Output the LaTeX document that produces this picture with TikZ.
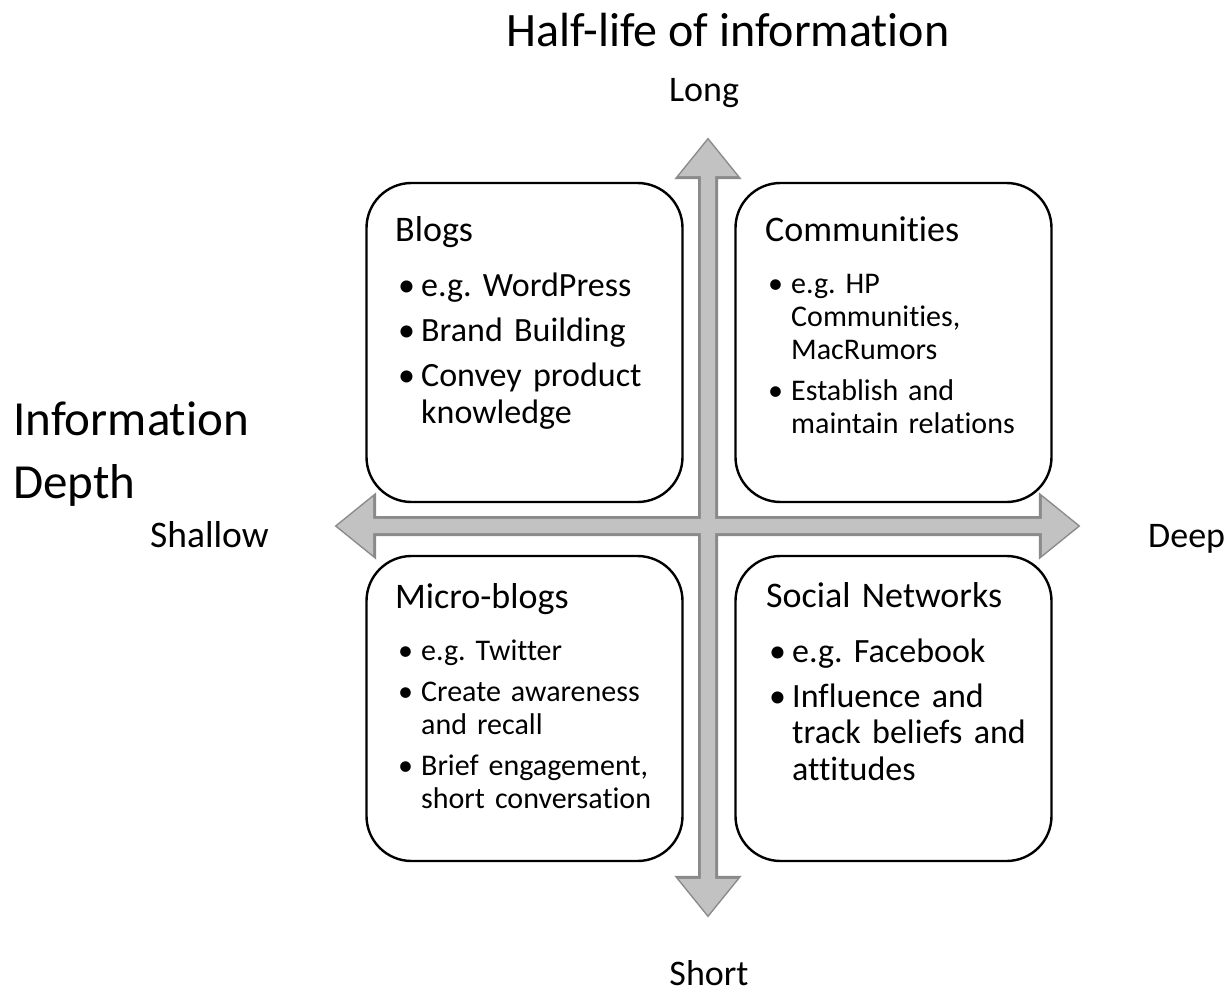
\documentclass[tikz,border=0pt]{standalone}
\usepackage{fontspec}
\setmainfont{Carlito}[Ligatures={NoCommon,NoContextual}]
\usetikzlibrary{shapes.arrows}
\usetikzlibrary{positioning}
\definecolor{axisfill}{HTML}{C2C2C2}
\definecolor{axisline}{HTML}{8A8A8A}
\newlength{\itemgap}
\newlength{\headgap}
\newcommand{\quadhead}[1]{{\fontsize{36}{40}\selectfont #1\par}\vspace{\headgap}}
\newcommand{\quaditem}[1]{\par\vspace{\itemgap}\noindent\hangindent=26pt\hangafter=1\makebox[26pt][l]{\hspace{3pt}\textbullet}#1\par}
\tikzset{quad/.style = {draw, line width=2.4pt, rounded corners=45pt, fill=white,
                        minimum width=316pt, inner sep=0}}
\tikzset{axis/.style = {double arrow, double arrow head extend=22pt, double arrow tip angle=78,
                        inner xsep=0, inner ysep=7pt, minimum width=0}}
\tikzset{quadtext/.style = {anchor=base west, inner sep=0, text width=290pt, align=left,
                            execute at begin node={\parindent=0pt\parskip=0pt\frenchspacing}}}
\tikzset{bigtext/.style = {quadtext, font=\fontsize{34}{36.5}\selectfont,
                           execute at begin node={\setlength{\itemgap}{8.5pt}\setlength{\headgap}{10pt}}}}
\tikzset{smalltext/.style = {quadtext, font=\fontsize{30}{33}\selectfont,
                             execute at begin node={\setlength{\itemgap}{8pt}\setlength{\headgap}{11pt}}}}
\tikzset{axislabel/.style = {anchor=base, inner sep=0, font=\fontsize{36}{40}\selectfont}}

\begin{document}
\begin{tikzpicture}[x=1pt, y=1pt]
  \useasboundingbox (0, 0) rectangle (1232, -1003);

  \node (title) at (728, -47) [anchor=base, inner sep=0, font=\fontsize{48}{56}\selectfont] {Half-life of information};
  \node (long) at (704, -102) [axislabel] {Long};
  \node (short) at (709, -985) [axislabel] {Short};
  \node (shallow) at (150, -547) [axislabel, anchor=base west, font=\fontsize{37.5}{40}\selectfont] {Shallow};
  \node (deep) at (1148, -547) [axislabel, anchor=base west] {Deep};
  \node (depth) at (13, -498) [anchor=base west, inner sep=0, align=left,
        font=\fontsize{49}{63}\selectfont] {Information\\Depth};

  \node (haxis) at (707.5, -526) [axis, minimum height=741pt, draw=axisline, line width=3pt, fill=axisfill] {};
  \node (vaxis) at (708, -527.5) [axis, rotate=90, minimum height=775pt, draw=axisline, line width=3pt, fill=axisfill] {};
  \node (hfill) at (haxis) [axis, minimum height=741pt, fill=axisfill] {};
  \node (vfill) at (vaxis) [axis, rotate=90, minimum height=775pt, fill=axisfill] {};

  \node (blogs) at (524.5, -342.5) [quad, minimum height=319pt] {};
  \node (comm) at (893.5, -342.5) [quad, minimum height=319pt] {};
  \node (micro) at (524.5, -708.5) [quad, minimum height=305pt] {};
  \node (social) at (893.5, -708.5) [quad, minimum height=305pt] {};

  \node (blogstext) at (395, -242) [bigtext] {\quadhead{Blogs}
    \quaditem{e.g. WordPress}
    \quaditem{Brand Building}
    \quaditem{Convey product\newline knowledge}};
  \node (commtext) at (765, -242) [smalltext] {\quadhead{Communities}
    \quaditem{e.g. HP\newline Communities,\newline MacRumors}
    \quaditem{Establish and\newline maintain relations}};
  \node (microtext) at (395, -608) [smalltext] {\quadhead{Micro-blogs}
    \quaditem{e.g. Twitter}
    \quaditem{Create awareness\newline and recall}
    \quaditem{Brief engagement,\newline short conversation}};
  \node (socialtext) at (766, -607) [bigtext] {\quadhead{Social Networks}
    \quaditem{e.g. Facebook}
    \quaditem{Influence and\newline track beliefs and\newline attitudes}};
\end{tikzpicture}
\end{document}
